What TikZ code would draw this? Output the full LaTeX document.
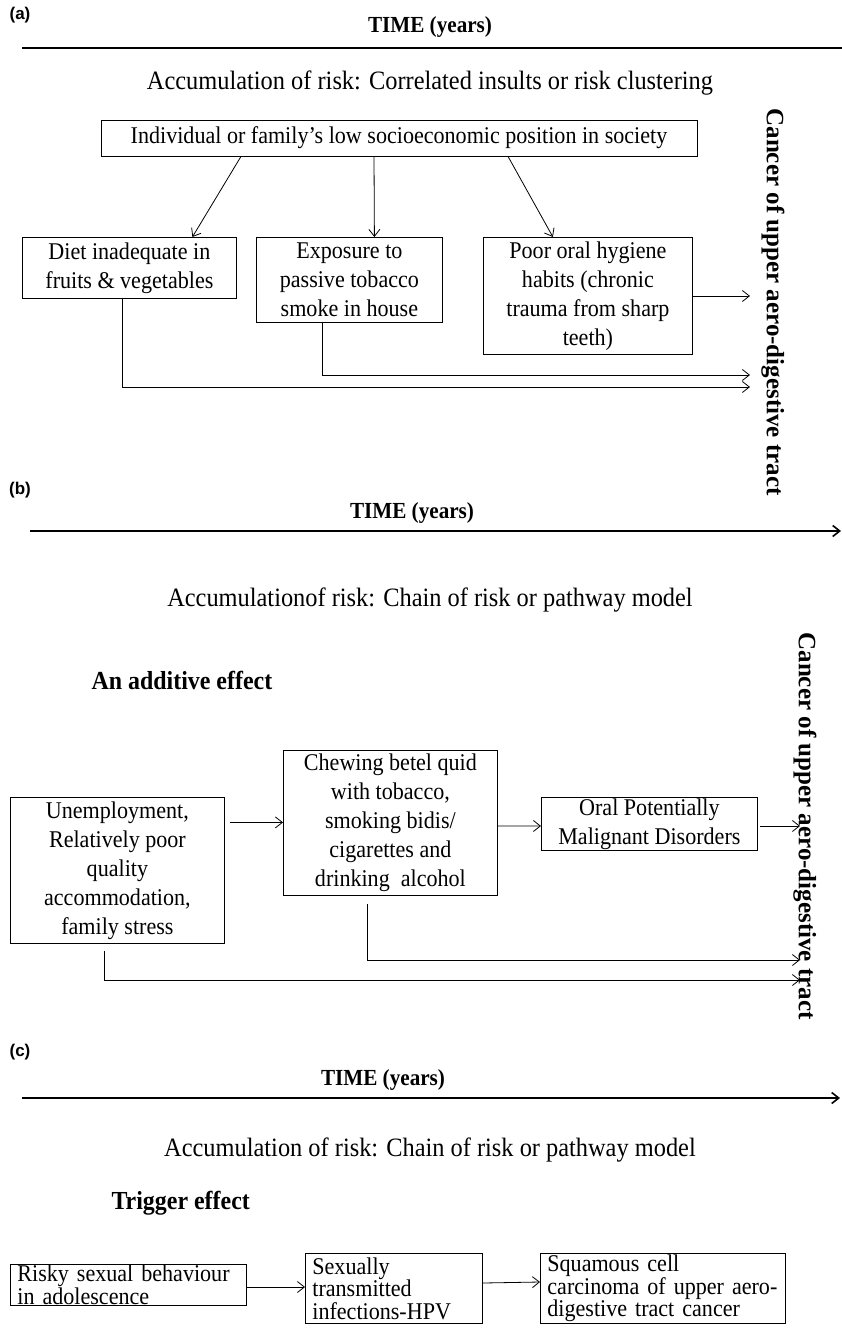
\documentclass[tikz,border=0pt]{standalone}
\usepackage{fontspec}
\setmainfont[FakeStretch=0.92]{Liberation Serif}
\newfontfamily\uprightserif{Liberation Serif}
\setsansfont{Liberation Sans}
\usetikzlibrary{arrows.meta,positioning}

\tikzset{
  box/.style={draw,line width=0.8pt,align=center,inner xsep=4pt,inner ysep=1pt,
    font=\fontsize{24}{29}\selectfont},
  lbox/.style={box,align=left,inner xsep=7pt,font=\fontsize{24}{22.5}\selectfont},
  arr/.style={-{Straight Barb[length=7pt,width=11pt]},line width=0.8pt},
  timeline/.style={line width=1.6pt},
  panel/.style={font=\sffamily\bfseries\fontsize{17}{20}\selectfont},
  timelabel/.style={font=\bfseries\fontsize{23}{26}\selectfont},
  heading/.style={font=\fontsize{26.5}{30}\selectfont},
  effect/.style={font=\bfseries\fontsize{26}{30}\selectfont,anchor=west},
  outcome/.style={font=\uprightserif\bfseries\fontsize{25}{28}\selectfont,rotate=-90},
}

\begin{document}
\begin{tikzpicture}[x=1pt,y=-1pt]
\useasboundingbox (0,0) rectangle (842,1329);

% (a) correlated insults
\node[panel] (pa) at (20,15) {(a)};
\node[timelabel] (ta) at (430,27) {TIME (years)};
\coordinate (la0) at (22,48);
\coordinate (la1) at (842,48);
\draw[timeline] (la0)--(la1);
\node[heading] (ha) at (430,83) {Accumulation of risk: Correlated insults or risk clustering};
\node[box,minimum width=596pt,minimum height=36pt] (ses) at (399,138)
  {Individual or family’s low socioeconomic position in society};
\node[box,minimum width=214pt,minimum height=61pt,anchor=north west] (diet) at (22,237)
  {Diet inadequate in\\fruits \& vegetables};
\node[box,minimum width=186pt,minimum height=85pt,anchor=north west] (smoke) at (256,237)
  {Exposure to\\passive tobacco\\smoke in house};
\node[box,minimum width=209pt,minimum height=117pt,anchor=north west] (oral) at (483,237)
  {Poor oral hygiene\\habits (chronic\\trauma from sharp\\teeth)};
\node[outcome] (ca) at (773,302) {Cancer of upper aero-digestive tract};
\coordinate (ea1) at (750,296);
\coordinate (ea2) at (750,375);
\coordinate (ea3) at (750,387);
\draw[arr] ([xshift=-158pt]ses.south) -- ([xshift=63pt]diet.north);
\draw[arr] ([xshift=-25pt]ses.south) -- ([xshift=25pt]smoke.north);
\draw[arr] ([xshift=109pt]ses.south) -- ([xshift=-35pt]oral.north);
\draw[arr] (oral.east |- ea1) -- (ea1);
\draw[arr] ([xshift=-27pt]smoke.south) |- (ea2);
\draw[arr] ([xshift=-7pt]diet.south) |- (ea3);

% (b) additive chain of risk
\node[panel] (pb) at (20,490) {(b)};
\node[timelabel] (tb) at (412,513) {TIME (years)};
\coordinate (lb0) at (30,531);
\coordinate (lb1) at (841,531);
\draw[timeline,arr,line width=1.6pt] (lb0)--(lb1);
\node[heading] (hb) at (430,600) {Accumulationof risk: Chain of risk or pathway model};
\node[effect] (addb) at (88,680) {An additive effect};
\node[box,minimum width=214pt,minimum height=146pt,anchor=north west] (unemp) at (10,797)
  {Unemployment,\\Relatively poor\\quality\\accommodation,\\family stress};
\node[box,minimum width=214pt,minimum height=145pt,anchor=north west] (chew) at (283,750)
  {Chewing betel quid\\with tobacco,\\smoking bidis/\\cigarettes and\\drinking\ \ alcohol};
\node[box,minimum width=216pt,minimum height=53pt,anchor=north west] (opmd) at (541,797)
  {Oral Potentially\\Malignant Disorders};
\node[outcome] (cb) at (805,826) {Cancer of upper aero-digestive tract};
\coordinate (eb1) at (800,826);
\coordinate (eb2) at (800,960);
\coordinate (eb3) at (800,980);
\draw[arr] ([xshift=5pt,yshift=48pt]unemp.east) -- ([yshift=48pt]unemp.east -| chew.west);
\draw[arr] ([yshift=-3pt]chew.east) -- (opmd.west |- eb1);
\draw[arr] ([xshift=2pt]opmd.east |- eb1) -- (eb1);
\draw[arr] ([xshift=-23pt,yshift=-8pt]chew.south) |- (eb2);
\draw[arr] ([xshift=-13pt,yshift=-7pt]unemp.south) |- (eb3);

% (c) trigger effect
\node[panel] (pc) at (20,1052) {(c)};
\node[timelabel] (tc) at (383,1080) {TIME (years)};
\coordinate (lc0) at (22,1098);
\coordinate (lc1) at (840,1098);
\draw[timeline,arr,line width=1.6pt] (lc0)--(lc1);
\node[heading] (hc) at (430,1150) {Accumulation of risk: Chain of risk or pathway model};
\node[effect] (trig) at (108,1203) {Trigger effect};
\node[lbox,text width=222pt,anchor=west] (risky) at (10,1285)
  {Risky sexual behaviour\\in adolescence};
\node[lbox,text width=163pt,minimum height=70pt,anchor=north west] (sti) at (305,1253)
  {Sexually\\transmitted\\infections-HPV};
\node[lbox,text width=231pt,minimum height=70pt,anchor=north west] (scc) at (540,1253)
  {Squamous cell\\carcinoma of upper aero-\\digestive tract cancer};
\draw[arr] ([yshift=-2pt]risky.east) -- (sti.west |- 0,1287);
\draw[arr] (sti.east |- 0,1283) -- (scc.west |- 0,1282);
\end{tikzpicture}
\end{document}
